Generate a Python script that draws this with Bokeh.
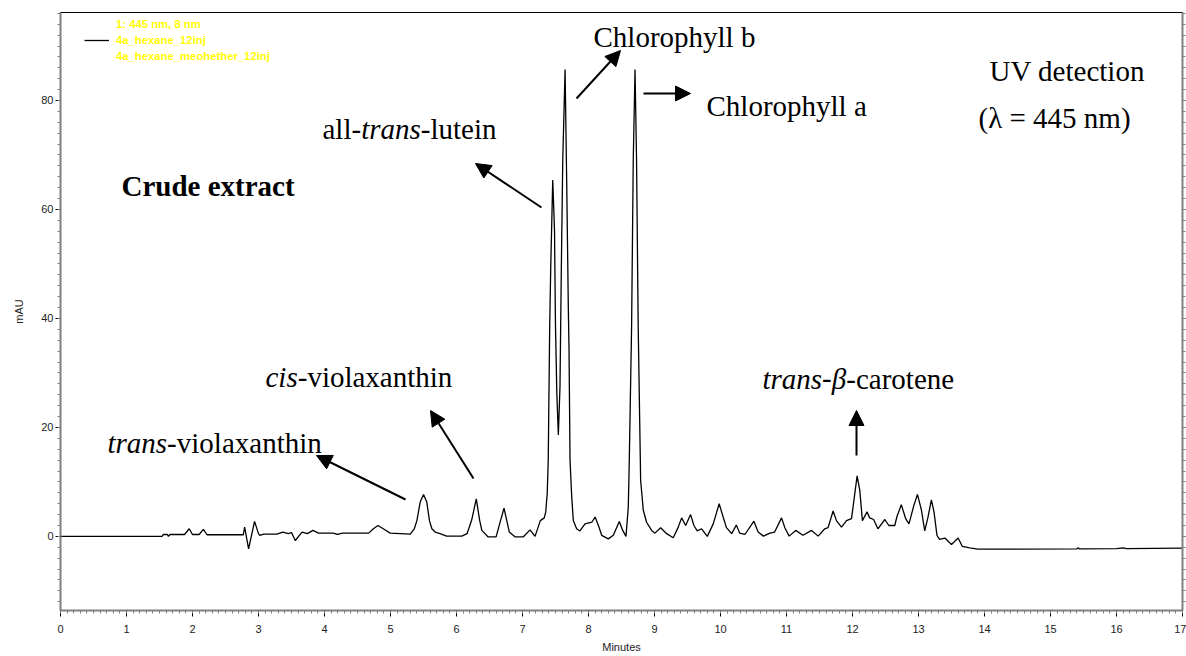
from bokeh.plotting import figure
from bokeh.models import (Range1d, LinearAxis, SingleIntervalTicker, Label, Arrow,
                          NormalHead, Legend, LegendItem, ColumnDataSource)
from bokeh.embed import file_html
from bokeh.resources import INLINE

# ---------------- data ----------------
minutes = [0.0, 1.54, 1.56, 1.62, 1.635, 1.66, 1.88, 1.95, 2.0, 2.1, 2.165, 2.22, 2.77, 2.79,
           2.85, 2.94, 3.0, 3.02, 3.08, 3.28, 3.37, 3.45, 3.5, 3.557, 3.66, 3.74, 3.825, 3.91,
           4.13, 4.2, 4.27, 4.67, 4.74, 4.81, 4.89, 4.995, 5.3, 5.36, 5.4, 5.45, 5.5, 5.55,
           5.59, 5.627, 5.677, 5.75, 5.85, 6.08, 6.16, 6.23, 6.3, 6.35, 6.384, 6.48, 6.6,
           6.64, 6.72, 6.8, 6.89, 7.01, 7.115, 7.19, 7.27, 7.33, 7.352, 7.375, 7.39, 7.412,
           7.428, 7.458, 7.485, 7.50, 7.52, 7.543, 7.568, 7.588, 7.61, 7.645, 7.67, 7.694,
           7.705, 7.72, 7.746, 7.77, 7.82, 7.87, 7.947, 8.05, 8.1, 8.15, 8.2, 8.3, 8.376,
           8.467, 8.518, 8.568, 8.603, 8.618, 8.653, 8.678, 8.705, 8.728, 8.753, 8.79, 8.83,
           8.88, 8.957, 9.007, 9.093, 9.184, 9.284, 9.36, 9.411, 9.472, 9.547, 9.597, 9.647,
           9.714, 9.8, 9.89, 9.98, 10.04, 10.09, 10.17, 10.24, 10.29, 10.37, 10.506, 10.57,
           10.65, 10.75, 10.82, 10.925, 10.975, 11.04, 11.14, 11.25, 11.38, 11.48, 11.58,
           11.63, 11.706, 11.757, 11.833, 11.909, 11.985, 12.07, 12.11, 12.15, 12.22, 12.26,
           12.32, 12.385, 12.49, 12.55, 12.64, 12.675, 12.74, 12.806, 12.856, 12.93, 12.984,
           13.045, 13.094, 13.144, 13.195, 13.235, 13.28, 13.32, 13.4, 13.5, 13.6, 13.665,
           13.775, 13.9, 14.08, 15.4, 15.42, 15.44, 16.0, 16.1, 16.15, 17.0]
mau = [0.0, 0.0, 0.35, 0.35, 0.0, 0.35, 0.35, 1.4, 0.35, 0.35, 1.3, 0.3, 0.3, 1.7,
       -2.3, 2.75, 0.5, 0.2, 0.4, 0.4, 0.8, 0.5, 0.7, -0.75, 0.8, 0.5, 1.1, 0.6,
       0.6, 0.35, 0.6, 0.6, 1.4, 2.0, 1.4, 0.6, 0.4, 1.4, 2.9, 6.3, 7.7, 6.3,
       2.9, 1.4, 0.8, 0.5, 0.05, 0.05, 0.5, 3.0, 6.9, 3.0, 1.1, -0.1, -0.1,
       1.7, 5.2, 0.8, -0.1, -0.1, 1.2, 0.0, 2.9, 3.4, 4.5, 8.0, 14.0, 38.5,
       49.5, 65.4, 56.2, 38.5, 26.3, 18.6, 27.4, 48.9, 69.1, 85.7, 64.8, 42.2,
       34.2, 14.0, 7.2, 2.9, 1.4, 1.0, 2.3, 2.6, 3.55, 2.0, 0.2, -0.45, 0.2,
       2.75, 1.1, 0.0, 5.4, 14.0, 38.5, 69.1, 85.7, 69.1, 38.5, 10.3, 4.8,
       2.6, 1.1, 0.6, 1.6, 0.5, -0.25, 1.7, 3.4, 2.0, 4.0, 2.0, 1.0,
       1.4, 0.0, 2.3, 6.0, 3.55, 1.6, 0.5, 2.1, 0.6, 0.35, 2.8, 0.8,
       0.05, 0.6, 0.8, 3.4, 1.6, 0.05, 1.1, 0.2, 1.1, 0.05, 1.4,
       1.6, 4.65, 2.9, 1.7, 2.9, 3.25, 11.1, 8.5, 2.9, 4.5, 3.4,
       3.1, 1.4, 3.1, 2.0, 2.0, 3.7, 5.8, 3.25, 2.3, 5.7, 7.7,
       4.8, 1.0, 3.55, 6.7, 4.5, 0.2, -0.55, -0.3, -1.5, -0.3, -1.85,
       -2.1, -2.35, -2.35, -2.3, -2.1, -2.3, -2.25, -2.1, -2.25, -2.15]

legend_labels = ["1: 445 nm, 8 nm", "4a_hexane_12inj", "4a_hexane_meohether_12inj"]
x_label = "Minutes"
y_label = "mAU"

# ---------------- layout ----------------
W, H = 1186, 656
BL, BR, BT, BB = 60, 4, 12, 46
X0, X1 = 0.0, 17.0
Y0, Y1 = -13.6, 96.15
PAGE_L, PAGE_T = BL, BT
FW, FH = W - BL - BR, H - BT - BB


def px2x(px):
    return X0 + (px - PAGE_L) / FW * (X1 - X0)


def py2y(py):
    return Y1 - (py - PAGE_T) / FH * (Y1 - Y0)


p = figure(width=W, height=H, output_backend="svg", toolbar_location=None,
           x_range=Range1d(X0, X1), y_range=Range1d(Y0, Y1),
           min_border_left=BL, min_border_right=BR, min_border_top=BT, min_border_bottom=BB,
           background_fill_color="white", border_fill_color="white")
p.xgrid.visible = False
p.ygrid.visible = False
p.outline_line_color = "black"
p.outline_line_width = 1

TICK_FONT = "Liberation Sans"
AX_GREY = "#808080"

xa = p.xaxis[0]
xa.ticker = SingleIntervalTicker(interval=1, num_minor_ticks=10)
ya = p.yaxis[0]
ya.ticker = SingleIntervalTicker(interval=20, num_minor_ticks=10)
for ax in (xa, ya):
    ax.axis_line_color = AX_GREY
    ax.axis_line_width = 2
    ax.major_tick_line_color = "black"
    ax.minor_tick_line_color = AX_GREY
    ax.major_tick_in = 0
    ax.minor_tick_in = 0
    ax.major_label_text_font = TICK_FONT
    ax.major_label_text_font_size = "11px"
    ax.major_label_text_color = "#222222"
    ax.axis_label_text_font = TICK_FONT
    ax.axis_label_text_font_size = "11px"
    ax.axis_label_text_font_style = "normal"
    ax.axis_label_text_color = "#222222"
xa.major_tick_out = 6
xa.minor_tick_out = 3
xa.major_label_standoff = 8
xa.axis_label = x_label
xa.axis_label_standoff = 5
ya.major_tick_out = 5
ya.minor_tick_out = 3
ya.major_label_standoff = 2
ya.axis_label = y_label
ya.axis_label_standoff = 13

ra = LinearAxis(ticker=SingleIntervalTicker(interval=20, num_minor_ticks=10))
ra.axis_line_color = AX_GREY
ra.axis_line_width = 2
ra.major_tick_line_color = AX_GREY
ra.minor_tick_line_color = AX_GREY
ra.major_tick_in = 0
ra.minor_tick_in = 0
ra.major_tick_out = 4
ra.minor_tick_out = 3
ra.major_label_overrides = {v: "" for v in (-20, 0, 20, 40, 60, 80, 100)}
ra.major_label_standoff = 0
p.add_layout(ra, "right")

src = ColumnDataSource(dict(t=minutes, v=mau))
r_main = p.line("t", "v", source=src, line_color="black", line_width=1.3)
r_d1 = p.line(x=[], y=[], line_alpha=0)
r_d2 = p.line(x=[], y=[], line_alpha=0)

legend = Legend(items=[LegendItem(label=legend_labels[0], renderers=[r_d1]),
                       LegendItem(label=legend_labels[1], renderers=[r_main]),
                       LegendItem(label=legend_labels[2], renderers=[r_d2])],
                location=(20, FH - 56), orientation="vertical",
                background_fill_alpha=0, border_line_alpha=0, padding=4, margin=0,
                spacing=0, label_height=16, glyph_height=16, glyph_width=25,
                label_standoff=7, label_text_font=TICK_FONT, label_text_font_style="bold",
                label_text_font_size="11.3px", label_text_color="#ffff00")
p.add_layout(legend)

# ---------------- annotations (page pixel positions) ----------------
SERIF = "Liberation Serif"
FS = 29
SIZE = "%dpx" % FS
W_ALL = 1333 * FS / 1000
W_TRANS = 2056 * FS / 1000
W_CIS = 1111 * FS / 1000
W_HY = 333 * FS / 1000
W_BETA = 500 * FS / 1000

# (text, left px, anchor px, style)
pieces = [
    ("Chlorophyll b", 593, 36, "normal"),
    ("Chlorophyll a", 706, 105, "normal"),
    ("UV detection", 989, 70, "normal"),
    ("(\u03bb = 445 nm)", 978, 117, "normal"),
    ("Crude extract", 121, 185, "bold"),
    ("all-", 322, 128, "normal"),
    ("trans", 322 + W_ALL, 128, "italic"),
    ("-lutein", 322 + W_ALL + W_TRANS, 128, "normal"),
    ("cis", 265, 376, "italic"),
    ("-violaxanthin", 265 + W_CIS, 376, "normal"),
    ("trans", 107, 442, "italic"),
    ("-violaxanthin", 107 + W_TRANS, 442, "normal"),
    ("trans", 762, 378, "italic"),
    ("-", 762 + W_TRANS, 378, "normal"),
    ("\u03b2", 762 + W_TRANS + W_HY, 378, "italic"),
    ("-carotene", 762 + W_TRANS + W_HY + W_BETA, 378, "normal"),
]
for txt, lx, by, style in pieces:
    p.add_layout(Label(x=px2x(lx), y=py2y(by), text=txt, text_font=SERIF,
                       text_font_size=SIZE, text_font_style=style, text_color="black",
                       text_align="left", text_baseline="alphabetic"))

# (tail px, tail py, head px, head py)
arrows = [
    (405, 499, 316, 455),
    (473, 478, 430, 410),
    (541, 207, 475, 163),
    (576, 98, 620, 50),
    (643, 93, 690, 93),
    (856, 455, 856, 410),
]
for x0, y0, x1, y1 in arrows:
    p.add_layout(Arrow(end=NormalHead(size=15, fill_color="black", line_color="black",
                                      line_width=1),
                       x_start=px2x(x0), y_start=py2y(y0), x_end=px2x(x1), y_end=py2y(y1),
                       line_color="black", line_width=2))

open("out.html", "w").write(file_html(p, INLINE))
